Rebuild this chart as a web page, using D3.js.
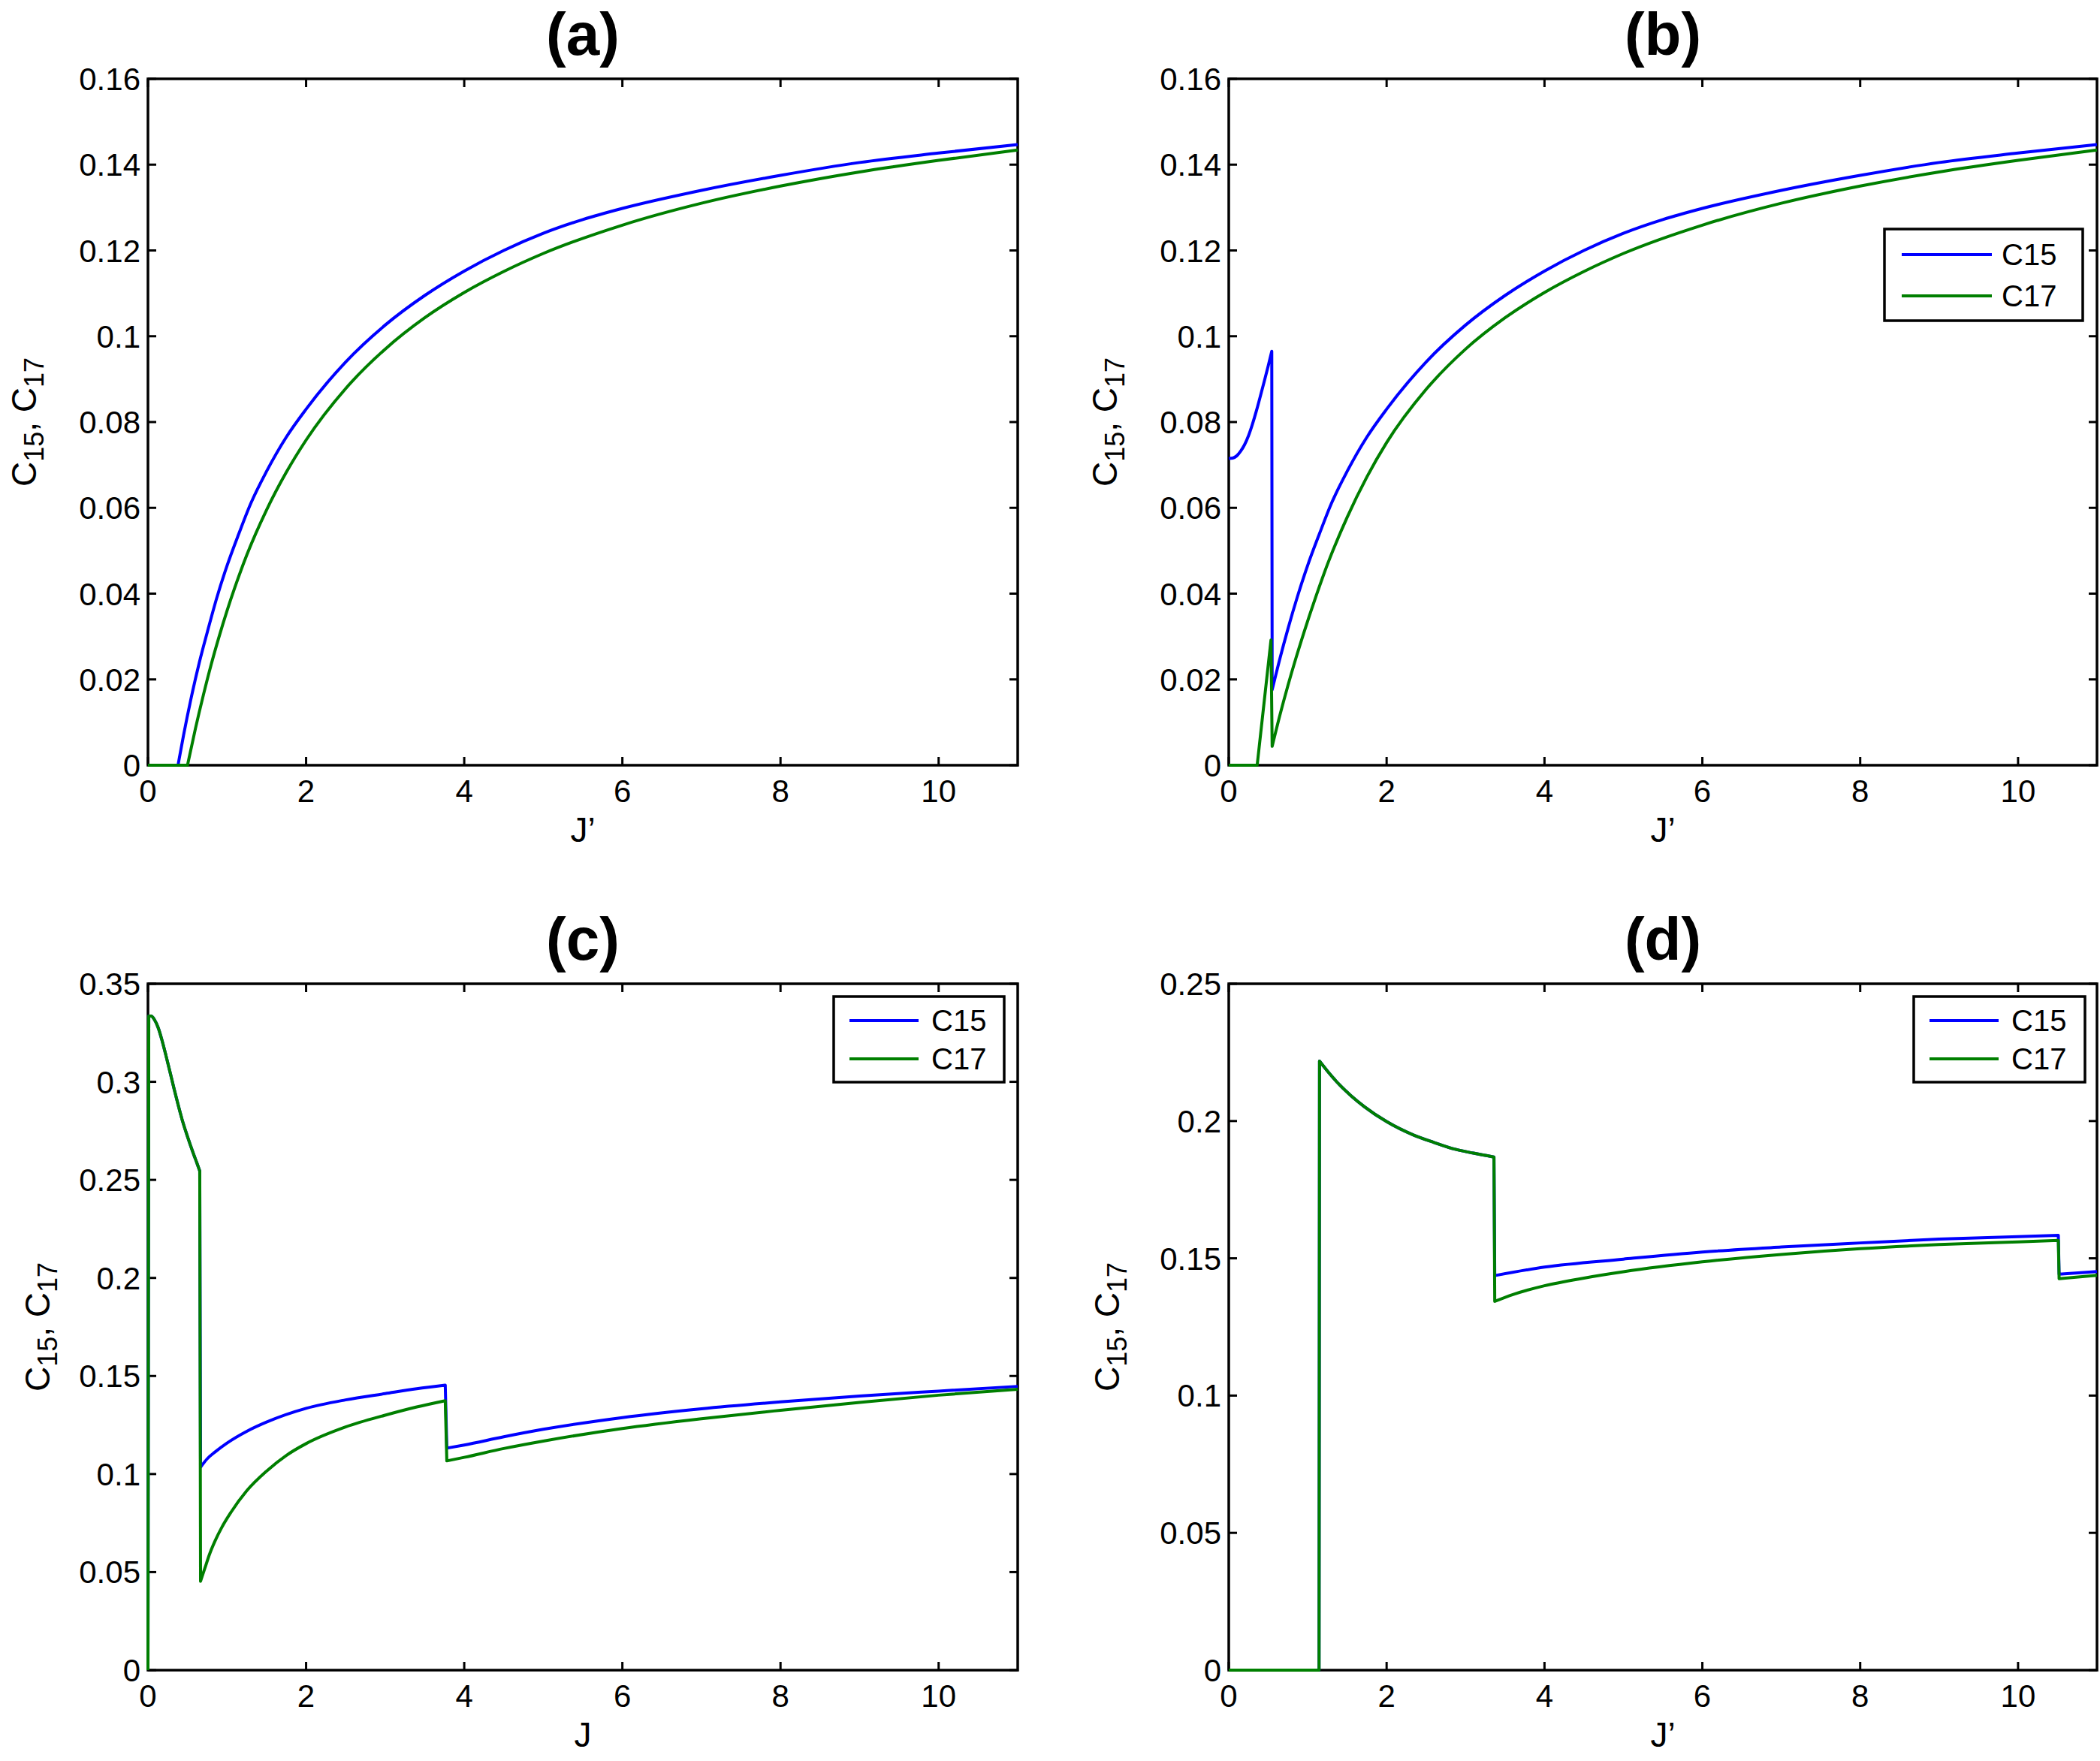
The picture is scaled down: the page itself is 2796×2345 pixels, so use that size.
<!DOCTYPE html>
<html><head><meta charset="utf-8">
<script src="https://cdn.jsdelivr.net/npm/d3@7"></script>
<style>body{margin:0;background:#fff} svg{display:block}</style>
</head><body>
<svg id="fig" width="2796" height="2345"></svg>
<script>
// ---------------- DATA ----------------
const titles = ["(a)", "(b)", "(c)", "(d)"];
const xLabels = ["J\u2019", "J\u2019", "J", "J\u2019"];
const seriesNames = ["C15", "C17"];
const xTicks = [0, 2, 4, 6, 8, 10];
const xTickLabels = ["0", "2", "4", "6", "8", "10"];
const yTicksAB = [0, 0.02, 0.04, 0.06, 0.08, 0.1, 0.12, 0.14, 0.16];
const yTickLabelsAB = ["0", "0.02", "0.04", "0.06", "0.08", "0.1", "0.12", "0.14", "0.16"];
const yTicksC = [0, 0.05, 0.1, 0.15, 0.2, 0.25, 0.3, 0.35];
const yTickLabelsC = ["0", "0.05", "0.1", "0.15", "0.2", "0.25", "0.3", "0.35"];
const yTicksD = [0, 0.05, 0.1, 0.15, 0.2, 0.25];
const yTickLabelsD = ["0", "0.05", "0.1", "0.15", "0.2", "0.25"];

// each series = list of continuous segments [J, C]; consecutive segments are joined by a jump
const a_C15 = [
  [[0, 0], [0.38, 0]],
  [[0.38, 0], [0.45, 0.007], [0.55, 0.016], [0.65, 0.024], [0.75, 0.031], [0.87, 0.039], [1.0, 0.0465], [1.15, 0.054], [1.3, 0.061], [1.5, 0.0685], [1.75, 0.0765], [2.0, 0.083], [2.5, 0.094], [3.0, 0.1026], [3.5, 0.1095], [4.0, 0.1152], [4.5, 0.12], [5.0, 0.124], [5.5, 0.1272], [6.0, 0.1298], [7.0, 0.134], [8.0, 0.1375], [9.0, 0.1405], [10.0, 0.1427], [11.0, 0.1447]]
];
const a_C17 = [
  [[0, 0], [0.5, 0]],
  [[0.5, 0], [0.6, 0.0085], [0.7, 0.0163], [0.8, 0.0235], [0.9, 0.03], [1.0, 0.036], [1.1, 0.0415], [1.25, 0.049], [1.5, 0.0595], [1.75, 0.0683], [2.0, 0.0758], [2.5, 0.0878], [3.0, 0.097], [3.5, 0.1043], [4.0, 0.1102], [4.5, 0.1151], [5.0, 0.1193], [6.0, 0.1259], [7.0, 0.131], [8.0, 0.135], [9.0, 0.1383], [10.0, 0.141], [11.0, 0.1434]]
];
const b_C15 = [
  [[0, 0.0715], [0.05, 0.0716], [0.1, 0.0721], [0.15, 0.0732], [0.2, 0.0747], [0.25, 0.0768], [0.3, 0.0795], [0.35, 0.0826], [0.4, 0.086], [0.45, 0.0895], [0.5, 0.0931], [0.545, 0.0965]],
  [[0.55, 0.0176], [0.65, 0.025], [0.75, 0.0318], [0.87, 0.0393], [1.0, 0.0466], [1.15, 0.054], [1.3, 0.061], [1.5, 0.0685], [1.75, 0.0765], [2.0, 0.083], [2.5, 0.094], [3.0, 0.1026], [3.5, 0.1095], [4.0, 0.1152], [4.5, 0.12], [5.0, 0.124], [5.5, 0.1272], [6.0, 0.1298], [7.0, 0.134], [8.0, 0.1375], [9.0, 0.1405], [10.0, 0.1427], [11.0, 0.1447]]
];
const b_C17 = [
  [[0, 0], [0.36, 0]],
  [[0.36, 0], [0.535, 0.0292]],
  [[0.55, 0.0044], [0.65, 0.0118], [0.75, 0.0186], [0.85, 0.0249], [0.95, 0.0308], [1.1, 0.0391], [1.25, 0.0468], [1.5, 0.0578], [1.75, 0.0672], [2.0, 0.0752], [2.5, 0.0876], [3.0, 0.097], [3.5, 0.1043], [4.0, 0.1102], [4.5, 0.1151], [5.0, 0.1193], [6.0, 0.1259], [7.0, 0.131], [8.0, 0.135], [9.0, 0.1383], [10.0, 0.141], [11.0, 0.1434]]
];
const c_C15 = [
  [[0, 0]],
  [[0.01, 0.3335], [0.04, 0.3335], [0.08, 0.3318], [0.13, 0.3275], [0.18, 0.3208], [0.23, 0.313], [0.28, 0.3048], [0.33, 0.2965], [0.38, 0.2885], [0.43, 0.281], [0.48, 0.2745], [0.53, 0.2685], [0.58, 0.2628], [0.62, 0.2585], [0.655, 0.2545]],
  [[0.665, 0.1035], [0.75, 0.1078], [0.85, 0.1113], [1.0, 0.1158], [1.25, 0.1218], [1.5, 0.1265], [2.0, 0.1335], [2.5, 0.1378], [3.0, 0.141], [3.4, 0.1435], [3.76, 0.1453]],
  [[3.78, 0.1132], [4.0, 0.1148], [4.5, 0.119], [5.0, 0.1228], [6.0, 0.1288], [7.0, 0.1333], [8.0, 0.1368], [9.0, 0.1398], [10.0, 0.1423], [11.0, 0.1447]]
];
const c_C17 = [
  [[0, 0]],
  [[0.01, 0.3335], [0.04, 0.3335], [0.08, 0.3318], [0.13, 0.3275], [0.18, 0.3208], [0.23, 0.313], [0.28, 0.3048], [0.33, 0.2965], [0.38, 0.2885], [0.43, 0.281], [0.48, 0.2745], [0.53, 0.2685], [0.58, 0.2628], [0.62, 0.2585], [0.655, 0.2545]],
  [[0.665, 0.0453], [0.72, 0.052], [0.776, 0.0588], [0.85, 0.066], [0.934, 0.0728], [1.05, 0.0805], [1.25, 0.0915], [1.5, 0.1015], [1.75, 0.1095], [2.0, 0.1155], [2.5, 0.124], [3.0, 0.13], [3.4, 0.1342], [3.76, 0.1374]],
  [[3.78, 0.1067], [4.0, 0.1085], [4.5, 0.113], [5.0, 0.1168], [6.0, 0.1232], [7.0, 0.1282], [8.0, 0.1325], [9.0, 0.1365], [10.0, 0.1402], [11.0, 0.1432]]
];
const d_C15 = [
  [[0, 0], [1.144, 0]],
  [[1.15, 0.2218], [1.25, 0.2182], [1.4, 0.2133], [1.55, 0.2092], [1.72, 0.2052], [2.0, 0.1998], [2.35, 0.1948], [2.6, 0.1922], [2.83, 0.19], [3.1, 0.1883], [3.36, 0.1869]],
  [[3.37, 0.1437], [4.0, 0.1468], [5.0, 0.1497], [6.0, 0.1523], [7.0, 0.1541], [8.0, 0.1556], [9.0, 0.157], [10.0, 0.1579], [10.51, 0.1584]],
  [[10.52, 0.1442], [11.0, 0.1452]]
];
const d_C17 = [
  [[0, 0], [1.144, 0]],
  [[1.15, 0.2218], [1.25, 0.2182], [1.4, 0.2133], [1.55, 0.2092], [1.72, 0.2052], [2.0, 0.1998], [2.35, 0.1948], [2.6, 0.1922], [2.83, 0.19], [3.1, 0.1883], [3.36, 0.1869]],
  [[3.37, 0.1343], [3.6, 0.1368], [4.0, 0.14], [4.5, 0.1428], [5.0, 0.1451], [6.0, 0.1487], [7.0, 0.1514], [8.0, 0.1535], [9.0, 0.155], [10.0, 0.156], [10.51, 0.1565]],
  [[10.52, 0.1426], [11.0, 0.1438]]
];

// ---------------- LAYOUT / STYLE ----------------
const FONT = "'Liberation Sans', Arial, sans-serif";
const colors = ["#0000ff", "#007f00"];
const panels = [
  { left: 197, top: 105, w: 1158, h: 914, yMax: 0.16, yt: yTicksAB, ytl: yTickLabelsAB, s: [a_C15, a_C17], ylabX: 48, legend: null },
  { left: 1636, top: 105, w: 1156, h: 914, yMax: 0.16, yt: yTicksAB, ytl: yTickLabelsAB, s: [b_C15, b_C17], ylabX: 1487,
    legend: { x: 2509, y: 305, w: 264, h: 122, l0: 2532, l1: 2652, tx: 2665, r: [34, 89] } },
  { left: 197, top: 1310, w: 1158, h: 914, yMax: 0.35, yt: yTicksC, ytl: yTickLabelsC, s: [c_C15, c_C17], ylabX: 66,
    legend: { x: 1110, y: 1327, w: 227, h: 114, l0: 1131, l1: 1223, tx: 1240, r: [32, 83] } },
  { left: 1636, top: 1310, w: 1156, h: 914, yMax: 0.25, yt: yTicksD, ytl: yTickLabelsD, s: [d_C15, d_C17], ylabX: 1490,
    legend: { x: 2548, y: 1327, w: 228, h: 114, l0: 2569, l1: 2661, tx: 2678, r: [32, 83] } }
];

const svg = d3.select("#fig");
svg.append("rect").attr("width", 2796).attr("height", 2345).attr("fill", "#fff");

function seriesPath(segs, x, y) {
  const gen = d3.line().x(d => x(d[0])).y(d => y(d[1])).curve(d3.curveMonotoneX);
  return segs.map((s, i) => {
    const p = s.length === 1 ? `M${x(s[0][0])},${y(s[0][1])}` : gen(s);
    return i === 0 ? p : "L" + p.slice(1);
  }).join("");
}

panels.forEach((P, pi) => {
  const x = d3.scaleLinear().domain([0, 11]).range([P.left, P.left + P.w]);
  const y = d3.scaleLinear().domain([0, P.yMax]).range([P.top + P.h, P.top]);
  const g = svg.append("g");
  const TL = 11;

  // ticks (inside, all four sides)
  const tk = g.append("g").attr("stroke", "#000").attr("stroke-width", 3);
  xTicks.forEach(v => {
    tk.append("line").attr("x1", x(v)).attr("x2", x(v)).attr("y1", P.top + P.h).attr("y2", P.top + P.h - TL);
    tk.append("line").attr("x1", x(v)).attr("x2", x(v)).attr("y1", P.top).attr("y2", P.top + TL);
  });
  P.yt.forEach(v => {
    tk.append("line").attr("x1", P.left).attr("x2", P.left + TL).attr("y1", y(v)).attr("y2", y(v));
    tk.append("line").attr("x1", P.left + P.w).attr("x2", P.left + P.w - TL).attr("y1", y(v)).attr("y2", y(v));
  });
  // frame
  g.append("rect").attr("x", P.left).attr("y", P.top).attr("width", P.w).attr("height", P.h)
    .attr("fill", "none").attr("stroke", "#000").attr("stroke-width", 3.5);

  // tick labels
  xTicks.forEach((v, i) => {
    g.append("text").attr("x", x(v)).attr("y", P.top + P.h + 49).attr("text-anchor", "middle")
      .attr("font-family", FONT).attr("font-size", 42).text(xTickLabels[i]);
  });
  P.yt.forEach((v, i) => {
    g.append("text").attr("x", P.left - 10).attr("y", y(v) + 15).attr("text-anchor", "end")
      .attr("font-family", FONT).attr("font-size", 42).text(P.ytl[i]);
  });

  // data lines
  P.s.forEach((segs, si) => {
    g.append("path").attr("d", seriesPath(segs, x, y)).attr("fill", "none")
      .attr("stroke", colors[si]).attr("stroke-width", 4).attr("stroke-linejoin", "round");
  });

  // title
  g.append("text").attr("x", P.left + P.w / 2).attr("y", P.top - 32).attr("text-anchor", "middle")
    .attr("font-family", FONT).attr("font-weight", "bold").attr("font-size", 80).text(titles[pi]);
  // x label
  g.append("text").attr("x", P.left + P.w / 2).attr("y", P.top + P.h + 102).attr("text-anchor", "middle")
    .attr("font-family", FONT).attr("font-size", 46).text(xLabels[pi]);
  // y label
  const yl = g.append("text").attr("transform", `translate(${P.ylabX},${P.top + P.h / 2}) rotate(-90)`)
    .attr("text-anchor", "middle").attr("font-family", FONT).attr("font-size", 46);
  yl.append("tspan").text("C");
  yl.append("tspan").attr("dy", 10).attr("font-size", 36).text("15");
  yl.append("tspan").attr("dy", -10).text(", C");
  yl.append("tspan").attr("dy", 10).attr("font-size", 36).text("17");

  // legend
  if (P.legend) {
    const L = P.legend;
    const lg = g.append("g");
    lg.append("rect").attr("x", L.x).attr("y", L.y).attr("width", L.w).attr("height", L.h)
      .attr("fill", "#fff").attr("stroke", "#000").attr("stroke-width", 3.5);
    seriesNames.forEach((nm, si) => {
      const yy = L.y + L.r[si];
      lg.append("line").attr("x1", L.l0).attr("x2", L.l1).attr("y1", yy).attr("y2", yy)
        .attr("stroke", colors[si]).attr("stroke-width", 4);
      lg.append("text").attr("x", L.tx).attr("y", yy + 14).attr("font-family", FONT).attr("font-size", 40).text(nm);
    });
  }
});
</script>
</body></html>
